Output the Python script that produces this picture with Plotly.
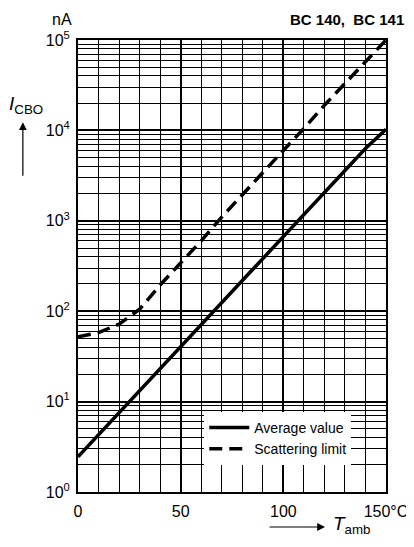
import plotly.graph_objects as go

# 周囲温度 (°C) と ICBO (nA)
t_amb = [0, 10, 20, 30, 40, 50, 60, 70, 80, 90, 100, 110, 120, 130, 140, 150]
icbo_avg = [2.45, 4.3, 7.5, 13, 23, 41, 72, 125, 220, 390, 680, 1200, 2100, 3600, 6300, 10300]
icbo_scatter = [52, 58, 72, 105, 195, 345, 600, 1100, 1950, 3400, 6000, 10500, 19000, 33000, 58000, 100000]

x_tickvals = [0, 50, 100, 150]
x_ticktext = ['0', '50', '100', '150°C']
y_tickvals = [1, 10, 100, 1000, 10000, 100000]
y_ticktext = ['10<sup>0</sup>', '10<sup>1</sup>', '10<sup>2</sup>', '10<sup>3</sup>', '10<sup>4</sup>', '10<sup>5</sup>']
y_minor = [m * 10 ** d for d in range(5) for m in range(2, 10)]

font_fam = 'Liberation Sans Narrow, Liberation Sans, Arial, sans-serif'

fig = go.Figure()
fig.add_trace(go.Scatter(x=t_amb, y=icbo_avg, mode='lines', name='Average value',
                         line=dict(color='black', width=3.5)))
fig.add_trace(go.Scatter(x=t_amb, y=icbo_scatter, mode='lines', name='Scattering limit',
                         line=dict(color='black', width=3.5, dash='13px,7px')))

# ページ余白 (8px) を見込んでサイズを調整
fig.update_layout(
    width=406, height=539,
    margin=dict(l=70, r=28, t=32, b=55),
    plot_bgcolor='white', paper_bgcolor='white',
    font=dict(family=font_fam, size=16, color='black'),
    legend=dict(x=0.41, y=0.177, xanchor='left', yanchor='top',
                bgcolor='white', font=dict(size=14), tracegroupgap=0,
                itemwidth=40),
)
fig.update_xaxes(range=[0, 150], tickvals=x_tickvals, ticktext=x_ticktext,
                 ticklabeloverflow='allow', automargin=False,
                 showgrid=True, gridcolor='black', gridwidth=1.5,
                 minor=dict(dtick=10, showgrid=True, gridcolor='black', gridwidth=1.3),
                 showline=True, linecolor='black', linewidth=2, mirror=True,
                 ticks='outside', ticklen=4, tickcolor='rgba(0,0,0,0)', zeroline=False)
fig.update_yaxes(type='log', range=[0, 5], tickvals=y_tickvals, ticktext=y_ticktext,
                 automargin=False,
                 showgrid=True, gridcolor='black', gridwidth=2,
                 minor=dict(tickvals=y_minor, showgrid=True, gridcolor='black', gridwidth=1.1),
                 showline=True, linecolor='black', linewidth=2, mirror=True,
                 ticks='outside', ticklen=3, tickcolor='rgba(0,0,0,0)', zeroline=False)

# 注記類
fig.add_annotation(text='<b>BC 140,  BC 141</b>', xref='paper', yref='paper',
                   x=1.066, y=1.069, xanchor='right', yanchor='top',
                   showarrow=False, font=dict(size=15, family='Liberation Sans, Arial'))
fig.add_annotation(text='nA', xref='paper', yref='paper', x=-0.052, y=1.069,
                   xanchor='center', yanchor='top', showarrow=False, font=dict(size=16))
fig.add_annotation(text='<i>I</i><sub>CBO</sub>', xref='paper', yref='paper',
                   x=-0.168, y=0.856, xanchor='center', yanchor='middle',
                   showarrow=False, font=dict(size=19))
fig.add_annotation(text='', xref='paper', yref='paper', x=-0.179, y=0.818,
                   ax=0, ay=55, showarrow=True, arrowhead=2, arrowsize=1.3,
                   arrowwidth=1.2, arrowcolor='black')
fig.add_annotation(text='', xref='paper', yref='paper', x=0.802, y=-0.0774,
                   ax=-57, ay=0, showarrow=True, arrowhead=2, arrowsize=1.3,
                   arrowwidth=1.2, arrowcolor='black')
fig.add_annotation(text='<i>T</i><sub>amb</sub>', xref='paper', yref='paper',
                   x=0.822, y=-0.074, xanchor='left', yanchor='middle',
                   showarrow=False, font=dict(size=19))

fig.write_html('out.html')
